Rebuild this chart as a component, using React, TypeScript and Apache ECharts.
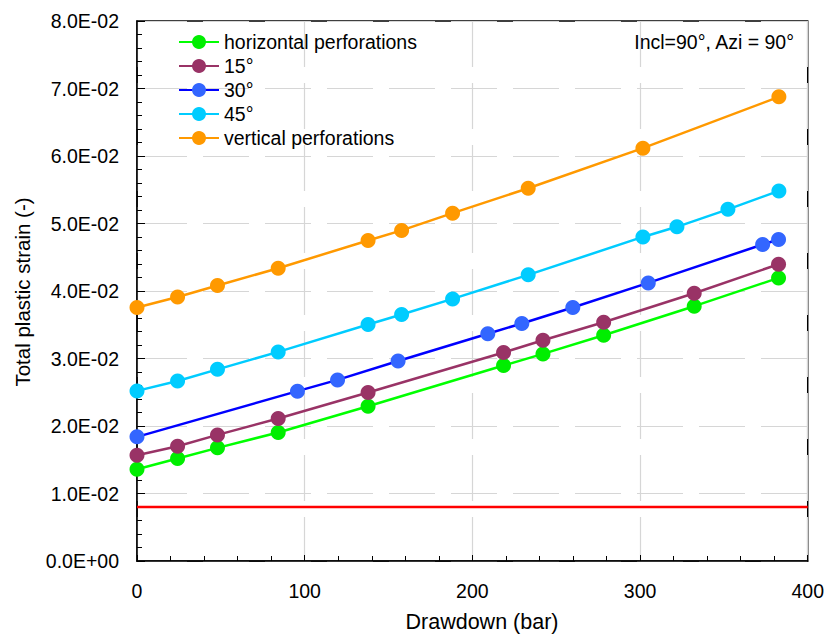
import React, { useEffect, useRef } from "react";
import * as echarts from "echarts";

// Drawdown (bar) positions per series
const xHorizontal = [0, 24.2, 48.0, 84.2, 137.8, 218.6, 242.1, 278.3, 332.3, 382.6];
const yHorizontal = [0.0136, 0.01519, 0.01676, 0.01904, 0.02293, 0.02896, 0.03068, 0.03345, 0.03775, 0.04194];

const x15 = [0, 24.2, 48.0, 84.2, 137.8, 218.6, 242.1, 278.3, 332.3, 382.6];
const y15 = [0.01567, 0.01701, 0.01868, 0.02111, 0.02496, 0.03089, 0.03271, 0.03538, 0.03967, 0.04397];

const x30 = [0, 95.7, 119.6, 155.7, 209.2, 229.5, 259.9, 304.9, 373.1, 382.6];
const y30 = [0.01839, 0.02516, 0.02683, 0.02963, 0.03367, 0.03519, 0.03756, 0.0412, 0.04689, 0.04763];

const x45 = [0, 24.2, 48.0, 84.2, 137.8, 157.8, 188.2, 233.3, 301.7, 322.0, 352.4, 382.8];
const y45 = [0.0252, 0.02667, 0.02839, 0.03098, 0.03504, 0.03652, 0.03883, 0.04239, 0.04801, 0.04951, 0.0521, 0.05483];

const xVertical = [0, 24.2, 48.0, 84.2, 137.8, 157.8, 188.2, 233.3, 301.7, 382.8];
const yVertical = [0.03756, 0.03911, 0.04081, 0.04338, 0.04748, 0.04898, 0.05153, 0.05523, 0.06116, 0.06876];

const limitX = [0, 400];
const limitY = [0.008, 0.008];

const seriesNames = ["horizontal perforations", "15°", "30°", "45°", "vertical perforations"];
const annotation = "Incl=90°, Azi = 90°";
const xTitle = "Drawdown (bar)";
const yTitle = "Total plastic strain (-)";

const FONT = "'Liberation Sans', Arial, sans-serif";

function zip(xs: number[], ys: number[]) {
  return xs.map((x, i) => [x, ys[i]]);
}

function sci(v: number): string {
  if (v === 0) return "0.0E+00";
  const e = Math.floor(Math.log10(Math.abs(v)) + 1e-9);
  const m = v / Math.pow(10, e);
  return m.toFixed(1) + "E" + (e < 0 ? "-" : "+") + String(Math.abs(e)).padStart(2, "0");
}

export default function App() {
  const ref = useRef<HTMLDivElement>(null);
  useEffect(() => {
    document.body.style.margin = "0";
    const chart = echarts.init(ref.current!, null, { renderer: "svg" });
    const mk = (name: string, xs: number[], ys: number[], line: string, marker: string) => ({
      name,
      type: "line",
      data: zip(xs, ys),
      symbol: "circle",
      symbolSize: 15,
      lineStyle: { color: line, width: 2.5 },
      itemStyle: { color: marker },
      z: 3,
    });
    chart.setOption({
      animation: false,
      grid: {
        left: 137,
        right: 19,
        top: 21,
        bottom: 78,
        show: true,
        borderColor: "#000",
        borderWidth: 1.5,
        backgroundColor: "transparent",
      },
      legend: {
        data: seriesNames,
        orient: "vertical",
        left: 178,
        top: 32,
        padding: 0,
        itemWidth: 40,
        itemHeight: 17.5,
        itemGap: 4,
        itemTextGap: 5,
        textStyle: { fontFamily: FONT, fontSize: 19.5, color: "#000", lineHeight: 20 },
      },
      xAxis: {
        type: "value",
        min: 0,
        max: 400,
        interval: 100,
        axisLine: { show: true, lineStyle: { color: "#000", width: 1.5 } },
        axisTick: { show: true, inside: true, length: 6, lineStyle: { color: "#000" } },
        minorTick: { show: true, splitNumber: 5, length: 5, lineStyle: { color: "#000" } },
        axisLabel: { fontFamily: FONT, fontSize: 19.5, color: "#000", margin: 20 },
        splitLine: { show: true, lineStyle: { color: "#d6d6d6", width: 1.2, type: [46, 16] } },
      },
      yAxis: {
        type: "value",
        min: 0,
        max: 0.08,
        interval: 0.01,
        axisLine: { show: true, lineStyle: { color: "#000", width: 1.5 } },
        axisTick: { show: true, inside: true, length: 8, lineStyle: { color: "#000" } },
        minorTick: { show: true, splitNumber: 5, length: 5, lineStyle: { color: "#000" } },
        axisLabel: { fontFamily: FONT, fontSize: 19.5, color: "#000", margin: 18, formatter: sci },
        splitLine: {
          show: true,
          lineStyle: { color: "#d6d6d6", width: 1.2, type: [46, 16], dashOffset: 58 },
        },
      },
      series: [
        {
          name: "limit",
          type: "line",
          data: zip(limitX, limitY),
          symbol: "none",
          lineStyle: { color: "#ff0000", width: 2.5 },
          z: 2,
        },
        mk(seriesNames[0], xHorizontal, yHorizontal, "#00ff00", "#00ee00"),
        mk(seriesNames[1], x15, y15, "#993366", "#993366"),
        mk(seriesNames[2], x30, y30, "#0000ff", "#3366ff"),
        mk(seriesNames[3], x45, y45, "#00ccff", "#00ccff"),
        mk(seriesNames[4], xVertical, yVertical, "#ff9900", "#ff9900"),
      ],
      graphic: [
        {
          type: "text",
          x: 794,
          y: 42,
          style: {
            text: annotation,
            fontFamily: FONT,
            fontSize: 19.5,
            fill: "#000",
            textAlign: "right",
            textVerticalAlign: "middle",
          },
        },
        {
          type: "text",
          x: 482,
          y: 622,
          style: {
            text: xTitle,
            fontFamily: FONT,
            fontSize: 21.5,
            fill: "#000",
            textAlign: "center",
            textVerticalAlign: "middle",
          },
        },
        {
          type: "text",
          x: 22.5,
          y: 292,
          rotation: Math.PI / 2,
          style: {
            text: yTitle,
            fontFamily: FONT,
            fontSize: 20.5,
            fill: "#000",
            textAlign: "center",
            textVerticalAlign: "middle",
          },
        },
      ],
    });
    return () => chart.dispose();
  }, []);
  return <div ref={ref} style={{ position: "absolute", left: 0, top: 0, width: 827, height: 639 }} />;
}
